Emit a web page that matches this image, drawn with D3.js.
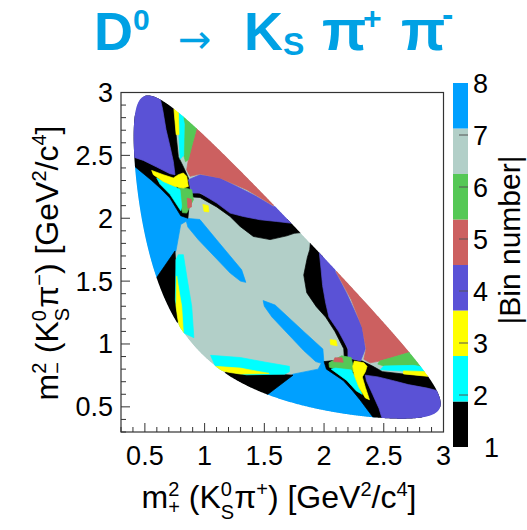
<!DOCTYPE html>
<html><head><meta charset="utf-8">
<script src="https://cdn.jsdelivr.net/npm/d3@7/dist/d3.min.js"></script>
<style>
html,body{margin:0;padding:0;background:#fff;}
svg{display:block;}
text{font-family:"Liberation Sans",Arial,Helvetica,sans-serif;}
</style></head><body>
<svg id="chart" width="527" height="530"></svg>
<script>
// ---------------- data ----------------
const binNumbers = [1,2,3,4,5,6,7,8];
const binColors  = ["#000000","#00ffff","#ffff00","#5a52d6","#cc6060","#55c855","#b2cfc8","#00a0ff"];
const xTickValues = [0.5,1,1.5,2,2.5,3];
const yTickValues = [0.5,1,1.5,2,2.5,3];
const xDomain = [0.3,3.0];
const yDomain = [0.3,3.0];
const massD0 = 1.86484, massKs = 0.497611, massPi = 0.13957;

// bin regions in (m2+, m2-) for the half m2- > m2+ ; each is mirrored across the diagonal
const blueLeft      = [[0.30,2.46],[0.42,2.42],[0.56,2.32],[0.63,2.26],[0.71,2.18],[0.80,2.04],[0.87,1.99],[0.80,1.95],[0.76,1.74],[0.60,1.52],[0.30,1.40]];
const blueStripe    = [[0.84,2.00],[0.96,1.99],[1.10,1.829],[1.31,1.59],[1.345,1.49],[1.30,1.50],[1.214,1.564],[0.948,1.829],[0.86,1.93]];
const blackUpper    = [[0.54,3.05],[0.71,3.05],[0.744,2.87],[0.761,2.665],[0.78,2.49],[0.822,2.41],[0.864,2.32],[0.878,2.227],[0.87,2.10],[0.86,2.00],[0.80,2.02],[0.71,2.16],[0.627,2.24],[0.557,2.30],[0.417,2.41],[0.30,2.42],[0.30,2.60]];
const blackBlob     = [[0.87,2.23],[1.10,2.14],[1.21,2.06],[1.33,2.03],[1.60,1.99],[1.72,1.99],[1.75,2.2],[2.0,2.0],[1.95,1.90],[1.85,1.89],[1.75,1.88],[1.688,1.86],[1.548,1.83],[1.408,1.855],[1.297,1.935],[1.213,2.014],[1.101,2.09],[0.962,2.165],[0.878,2.17]];
const blackTriangle = [[0.752,1.74],[0.60,1.53],[0.55,1.40],[0.70,1.10],[0.79,1.19],[0.77,1.45]];
const purpleCorner  = [[0.35,3.05],[0.621,3.05],[0.627,2.957],[0.649,2.864],[0.677,2.705],[0.71,2.572],[0.738,2.452],[0.752,2.346],[0.71,2.354],[0.599,2.407],[0.487,2.46],[0.30,2.52]];
const purpleBand    = [[0.864,2.306],[0.962,2.346],[1.129,2.32],[1.408,2.187],[1.576,2.094],[1.65,2.10],[1.72,2.05],[1.73,1.96],[1.604,1.974],[1.464,1.988],[1.324,2.014],[1.213,2.041],[1.101,2.121],[0.962,2.20],[0.892,2.20]];
const redUpper      = [[0.93,2.95],[0.934,2.718],[0.892,2.572],[0.864,2.466],[0.85,2.386],[0.878,2.333],[0.962,2.352],[1.129,2.32],[1.353,2.227],[1.576,2.10],[1.60,2.3],[1.2,2.95]];
const greenUpper    = [[0.80,2.95],[0.95,2.95],[0.934,2.72],[0.892,2.57],[0.864,2.466],[0.84,2.45],[0.825,2.50],[0.83,2.75]];
const greenLower    = [[0.78,2.253],[0.892,2.227],[0.906,2.147],[0.85,2.041],[0.815,2.045],[0.80,2.10]];
const redDot        = [[0.855,2.16],[0.89,2.15],[0.89,2.09],[0.86,2.08]];
const cyanUpper     = [[0.78,2.88],[0.80,2.92],[0.83,2.75],[0.825,2.50],[0.795,2.47],[0.785,2.66]];
const cyanWedge     = [[0.599,2.32],[0.752,2.253],[0.794,2.227],[0.808,2.094],[0.80,2.06],[0.71,2.19],[0.627,2.27]];
const cyanLeft      = [[0.78,1.71],[0.822,1.71],[0.855,1.51],[0.892,1.30],[0.91,1.05],[0.80,1.10],[0.755,1.35],[0.76,1.67]];
const yellowUpper   = [[0.742,2.88],[0.78,2.86],[0.786,2.665],[0.762,2.665]];
const yellowChevron = [[0.557,2.38],[0.654,2.346],[0.738,2.32],[0.78,2.346],[0.822,2.36],[0.85,2.333],[0.864,2.253],[0.822,2.24],[0.752,2.253],[0.654,2.293],[0.571,2.346]];
const yellowDot     = [[0.985,2.11],[1.03,2.10],[1.035,2.05],[0.995,2.055]];
const yellowLeft    = [[0.766,1.54],[0.79,1.40],[0.808,1.30],[0.822,1.086],[0.80,1.10],[0.775,1.20],[0.761,1.30]];

// painting order (bin number, region)
const layerBins   = [8,8,1,1,1,4,4,5,6,6,5,2,2,2,3,3,3,3];
const layerShapes = [blueLeft,blueStripe,blackUpper,blackBlob,blackTriangle,purpleCorner,purpleBand,redUpper,greenUpper,greenLower,redDot,cyanUpper,cyanWedge,cyanLeft,yellowUpper,yellowChevron,yellowDot,yellowLeft];

// ---------------- drawing ----------------
const svg = d3.select("#chart");
const x = d3.scaleLinear().domain(xDomain).range([121,443.5]);
const y = d3.scaleLinear().domain(yDomain).range([432,92.5]);
const color = d3.scaleOrdinal().domain(binNumbers).range(binColors);
const line = d3.line().x(d=>x(d[0])).y(d=>y(d[1]));

// Dalitz kinematic boundary
function limits(s){
  const rs=Math.sqrt(s);
  const E2=(s-massPi*massPi+massKs*massKs)/(2*rs);
  const E3=(massD0*massD0-s-massPi*massPi)/(2*rs);
  const p2=Math.sqrt(Math.max(0,E2*E2-massKs*massKs));
  const p3=Math.sqrt(Math.max(0,E3*E3-massPi*massPi));
  const a=(E2+E3)*(E2+E3);
  return [a-(p2+p3)*(p2+p3), a-(p2-p3)*(p2-p3)];
}
const sMin=(massKs+massPi)**2, sMax=(massD0-massPi)**2;
const upper=[], lower=[];
for(let i=0;i<=600;i++){
  const s=sMin+(sMax-sMin)*(1-Math.cos(Math.PI*i/600))/2;
  const [lo,hi]=limits(s);
  upper.push([s,hi]); lower.push([s,lo]);
}
const boundary = upper.concat(lower.reverse());

svg.append("defs").append("clipPath").attr("id","dalitz")
  .append("path").attr("d", line(boundary)+"Z");

const plot = svg.append("g").attr("clip-path","url(#dalitz)");
plot.append("path").attr("d", line(boundary)+"Z").attr("fill", color(7));
layerShapes.forEach((shape,i)=>{
  const c=color(layerBins[i]);
  [shape, shape.map(p=>[p[1],p[0]])].forEach(pts=>{
    plot.append("path").attr("d", line(pts)+"Z").attr("fill", c)
      .attr("stroke", c).attr("stroke-width",0.7).attr("stroke-linejoin","round");
  });
});

// frame
const axisColor="#333";
svg.append("rect").attr("x",121).attr("y",92.5).attr("width",322.5).attr("height",339.5)
  .attr("fill","none").attr("stroke",axisColor).attr("stroke-width",1.2);

// ticks
const minorX = d3.range(3,31).map(v=>v/10);
minorX.forEach(v=>{
  const major = xTickValues.some(t=>Math.abs(t-v)<1e-6);
  svg.append("line").attr("x1",x(v)).attr("x2",x(v)).attr("y1",432).attr("y2",432-(major?9:5))
    .attr("stroke",axisColor).attr("stroke-width",1);
  svg.append("line").attr("y1",y(v)).attr("y2",y(v)).attr("x1",121).attr("x2",121+(major?9:5))
    .attr("stroke",axisColor).attr("stroke-width",1);
});
svg.selectAll(".xl").data(xTickValues).enter().append("text")
  .attr("x",d=>x(d)).attr("y",465).attr("text-anchor","middle").attr("font-size",27).text(d=>String(d));
svg.selectAll(".yl").data(yTickValues).enter().append("text")
  .attr("x",113).attr("y",d=>y(d)+9.5).attr("text-anchor","end").attr("font-size",27).text(d=>String(d));

// rich text helper
function rich(parent, segs, anchor){
  const t = parent.append("text").attr("text-anchor",anchor||"middle").attr("font-size",32).attr("fill","#000");
  let cur=0, prev=null;
  segs.forEach(s=>{
    const sh=s.shift||0;
    const ts=t.append("tspan").text(s.t).attr("font-size",s.fs||32).attr("dy",sh-cur);
    if(s.back&&prev) ts.attr("dx",-prev.node().getComputedTextLength());
    cur=sh; prev=ts;
  });
  return t;
}
const xt = svg.append("g").attr("transform","translate(279,508)");
rich(xt,[{t:"m"},{t:"2",fs:20,shift:-12},{t:"+",fs:20,shift:6,back:true},{t:" (K"},{t:"0",fs:20,shift:-12},{t:"S",fs:20,shift:11,back:true},{t:"π"},{t:"+",fs:20,shift:-12},{t:") [GeV"},{t:"2",fs:20,shift:-12},{t:"/c"},{t:"4",fs:20,shift:-12},{t:"]"}]);
const yt = svg.append("g").attr("transform","translate(58,263) rotate(-90)");
rich(yt,[{t:"m"},{t:"2",fs:20,shift:-12},{t:"−",fs:20,shift:6,back:true},{t:" (K"},{t:"0",fs:20,shift:-12},{t:"S",fs:20,shift:11,back:true},{t:"π"},{t:"−",fs:20,shift:-12},{t:") [GeV"},{t:"2",fs:20,shift:-12},{t:"/c"},{t:"4",fs:20,shift:-12},{t:"]"}]);

// colour bar
const zc = d3.scaleLinear().domain([1,8]).range([447,83]);
binNumbers.forEach((b,i)=>{
  const z0=1+i*7/8, z1=1+(i+1)*7/8;
  svg.append("rect").attr("x",453).attr("width",15).attr("y",zc(z1)).attr("height",zc(z0)-zc(z1)).attr("fill",color(b));
});
binNumbers.slice(1,7).forEach(b=>{
  svg.append("line").attr("x1",459).attr("x2",468).attr("y1",zc(b)).attr("y2",zc(b)).attr("stroke","#555").attr("stroke-width",1);
});
svg.selectAll(".zl").data(binNumbers).enter().append("text")
  .attr("x",d=>d===1?484:473).attr("y",d=>zc(d)+9.5).attr("font-size",27).text(d=>d);
svg.append("text").attr("transform","translate(520,240) rotate(-90)").attr("text-anchor","middle")
  .attr("font-size",30).text("|Bin number|");

// title
const title = svg.append("text").attr("fill","#00a1e4").attr("font-weight","bold");
title.append("tspan").attr("x",94).attr("y",50).attr("font-size",54).text("D");
title.append("tspan").attr("x",133).attr("y",30).attr("font-size",30).text("0");
title.append("tspan").attr("x",178).attr("y",53).attr("font-size",40).attr("font-weight","normal")
  .style("font-family","'DejaVu Sans'").text("→");
title.append("tspan").attr("x",244).attr("y",50).attr("font-size",54).text("K");
title.append("tspan").attr("x",283).attr("y",55).attr("font-size",32).text("S");
title.append("tspan").attr("x",322).attr("y",50).attr("font-size",58).text("π");
title.append("tspan").attr("x",363).attr("y",29).attr("font-size",32).text("+");
title.append("tspan").attr("x",401).attr("y",50).attr("font-size",58).text("π");
title.append("tspan").attr("x",442).attr("y",26).attr("font-size",34).text("-");
</script>
</body></html>
